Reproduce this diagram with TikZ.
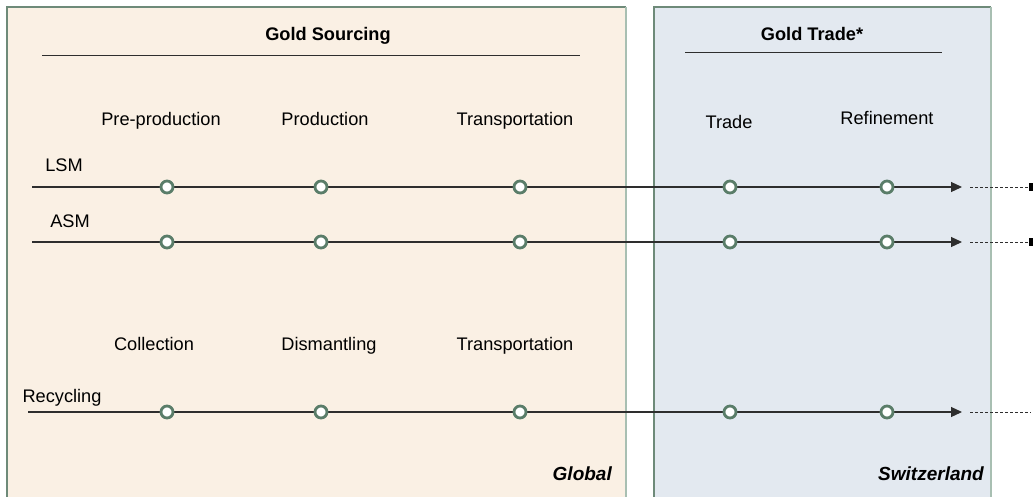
\documentclass[tikz,border=0pt]{standalone}
\usepackage{fontspec}
\setmainfont{Liberation Sans}
\usetikzlibrary{arrows.meta}
\definecolor{gsfill}{HTML}{FAF0E4}
\definecolor{gtfill}{HTML}{E3E9F0}
\definecolor{boxedge}{HTML}{6E8A79}
\definecolor{boxedgelight}{HTML}{A8BFB2}
\definecolor{dotgreen}{HTML}{5A7D69}
\definecolor{linegray}{HTML}{2E2E2E}
\begin{document}
\begin{tikzpicture}[x=1pt,y=-1pt,
  lbl/.style={font=\fontsize{18.2}{20}\selectfont, inner sep=0pt, anchor=base},
  ttl/.style={font=\fontsize{18.2}{20}\selectfont\bfseries, inner sep=0pt, anchor=base},
  region/.style={font=\fontsize{19}{21}\selectfont\bfseries\itshape, inner sep=0pt, anchor=base east},
  dot/.style={circle, draw=dotgreen, fill=white, line width=2.8pt, minimum size=12pt, inner sep=0pt},
  flow/.style={draw=linegray, line width=1.1pt},
  tail/.style={draw=linegray, line width=0.9pt, dash pattern=on 3pt off 2pt}
]
\useasboundingbox (0,0) rectangle (1033,496);
% boxes
\fill[gsfill] (7,7) rectangle (626,500);
\fill[gtfill] (654,7) rectangle (991,500);
\draw[boxedge, line width=1.3pt] (7,500) -- (7,7) -- (626,7);
\draw[boxedgelight, line width=1.5pt] (626,7) -- (626,500);
\draw[boxedge, line width=1.3pt] (654,500) -- (654,7) -- (991,7);
\draw[boxedgelight, line width=1.5pt] (991,7) -- (991,500);
% titles
\node[ttl] (gs) at (328,40) {Gold Sourcing};
\node[ttl] (gt) at (812,40) {Gold Trade*};
\draw[linegray, line width=0.9pt] (42,55) -- (580,55);
\draw[linegray, line width=0.9pt] (685,52) -- (942,52);
% column labels
\node[lbl] (l1) at (161,125) {Pre-production};
\node[lbl] (l2) at (325,125) {Production};
\node[lbl] (l3) at (515,125) {Transportation};
\node[lbl] (l4) at (729,128) {Trade};
\node[lbl] (l5) at (887,124) {Refinement};
\node[lbl] (l6) at (154,350) {Collection};
\node[lbl] (l7) at (329,350) {Dismantling};
\node[lbl] (l8) at (515,350) {Transportation};
% row labels
\node[lbl] (lsm) at (64,171) {LSM};
\node[lbl] (asm) at (70,227) {ASM};
\node[lbl] (rec) at (62,402) {Recycling};
% region labels
\node[region] (glob) at (612,480) {Global};
\node[region] (swiss) at (984,480) {Switzerland};
% flows
\foreach \r/\y/\xs in {a/187/32, b/242/32, c/412/28}{
  \coordinate (\r s) at (\xs,\y);
  \coordinate (\r e) at (962,\y);
  \coordinate (\r t0) at (970,\y);
  \coordinate (\r t1) at (1031,\y);
  \draw[flow, -{Triangle[length=11pt,width=10pt]}] (\r s) -- (\r e);
  \draw[tail] (\r t0) -- (\r t1);
  \foreach \i/\x in {1/167,2/321,3/520,4/730,5/887}{
    \node[dot] (\r\i) at (\x,\y) {};
  }
}
\fill[black] (1029,183) rectangle (1033,191);
\fill[black] (1029,238) rectangle (1033,246);
\end{tikzpicture}
\end{document}
